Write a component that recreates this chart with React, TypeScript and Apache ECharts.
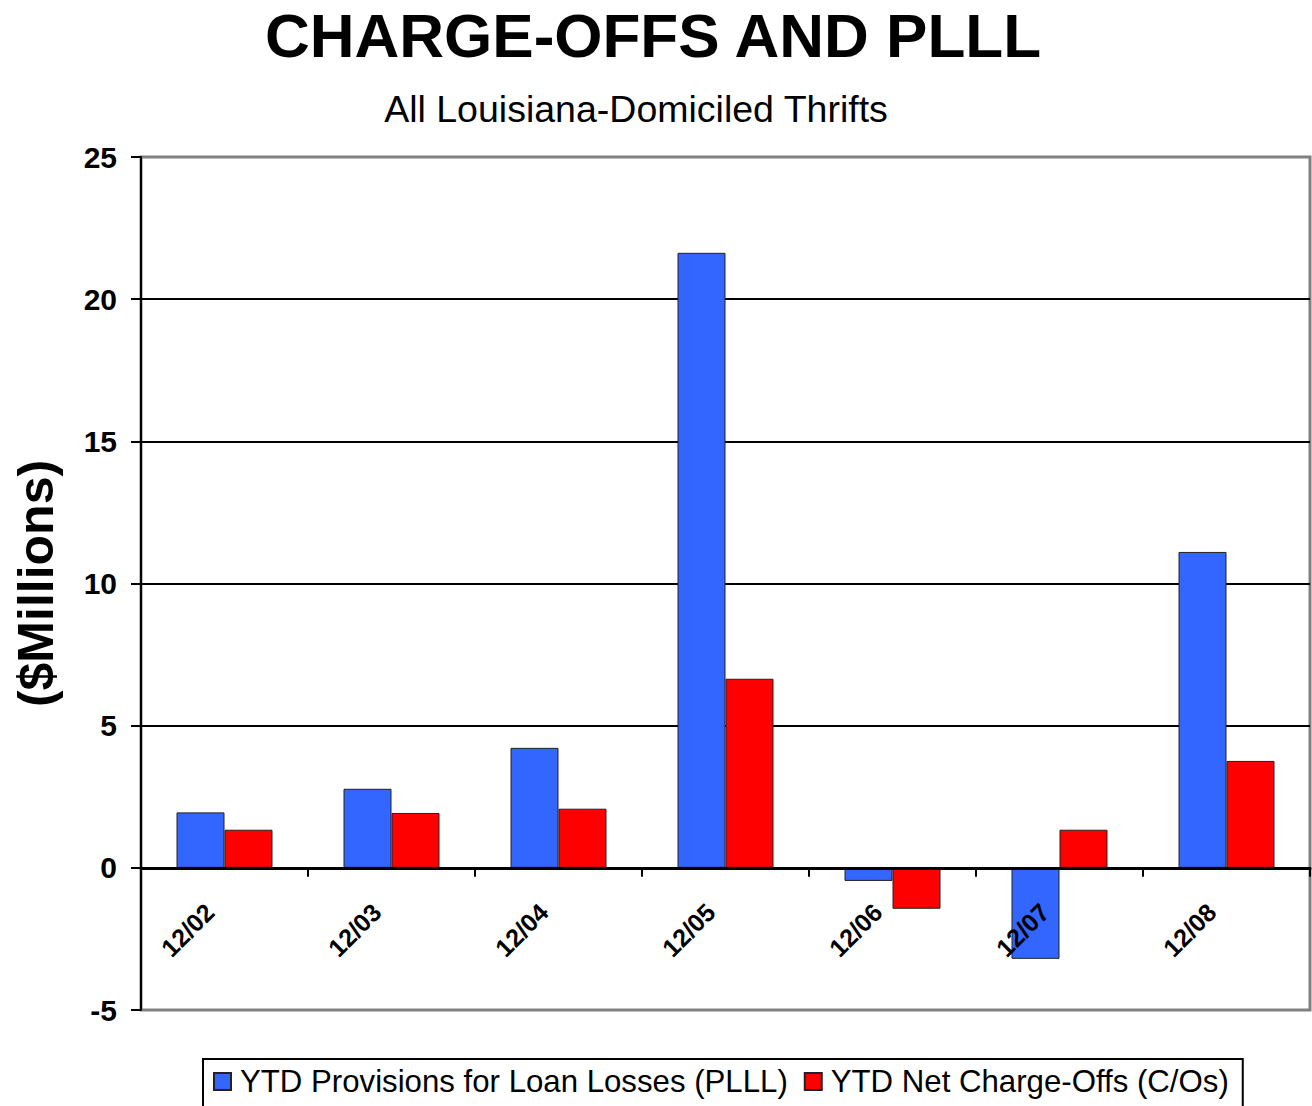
import React, { useEffect, useRef } from "react";
import * as echarts from "echarts";

const categories = ["12/02", "12/03", "12/04", "12/05", "12/06", "12/07", "12/08"];
const plllValues = [1.95, 2.78, 4.22, 21.63, -0.46, -3.2, 11.11];
const chargeOffValues = [1.34, 1.93, 2.08, 6.65, -1.44, 1.34, 3.76];
const seriesNames = ["YTD Provisions for Loan Losses (PLLL)", "YTD Net Charge-Offs (C/Os)"];
const yMin = -5;
const yMax = 25;
const yStep = 5;

const FONT = '"Liberation Sans", Arial, Helvetica, sans-serif';

export default function App() {
  const ref = useRef<HTMLDivElement>(null);

  useEffect(() => {
    document.body.style.margin = "0";
    if (!ref.current) return;
    const chart = echarts.init(ref.current, null, { renderer: "svg" });

    chart.setOption({
      animation: false,
      backgroundColor: "#ffffff",
      title: [
        {
          text: "CHARGE-OFFS AND PLLL",
          left: 648,
          top: -1,
          textAlign: "center",
          textStyle: { fontFamily: FONT, fontWeight: "bold", fontSize: 62, color: "#000" },
        },
        {
          text: "All Louisiana-Domiciled Thrifts",
          left: 631,
          top: 85,
          textAlign: "center",
          textStyle: { fontFamily: FONT, fontWeight: "normal", fontSize: 37.5, color: "#000" },
        },
      ],
      grid: {
        left: 141,
        right: 2,
        top: 157,
        bottom: 96,
        show: true,
        borderColor: "#808080",
        borderWidth: 3,
        backgroundColor: "transparent",
      },
      legend: {
        left: 203,
        top: 1059,
        orient: "horizontal",
        padding: [7, 14, 30, 10],
        itemGap: 16,
        itemWidth: 17,
        itemHeight: 17,
        icon: "rect",
        borderColor: "#000",
        borderWidth: 2,
        textStyle: { fontFamily: FONT, fontSize: 31.2, color: "#000", padding: [0, 0, 0, 4] },
        data: seriesNames,
      },
      xAxis: {
        type: "category",
        data: categories,
        boundaryGap: true,
        z: 5,
        axisLine: { onZero: true, lineStyle: { color: "#000", width: 3 } },
        axisTick: { show: true, interval: 0, length: 9, lineStyle: { color: "#000", width: 2 } },
        axisLabel: {
          interval: 0,
          rotate: 45,
          margin: -117,
          padding: [0, 21, 0, 0],
          fontFamily: FONT,
          fontWeight: "bold",
          fontSize: 25,
          color: "#000",
        },
        splitLine: { show: false },
      },
      yAxis: {
        type: "value",
        min: yMin,
        max: yMax,
        interval: yStep,
        name: "($Millions)",
        nameLocation: "middle",
        nameRotate: 90,
        nameGap: 80,
        nameTextStyle: { fontFamily: FONT, fontWeight: "bold", fontSize: 50, color: "#000" },
        axisLine: { show: true, onZero: false, lineStyle: { color: "#000", width: 2 } },
        axisTick: { show: true, length: 10, lineStyle: { color: "#000", width: 2 } },
        axisLabel: {
          margin: 24,
          fontFamily: FONT,
          fontWeight: "bold",
          fontSize: 30,
          color: "#000",
        },
        splitLine: {
          show: true,
          lineStyle: {
            color: ["#808080", "#000", "#000", "#000", "#000", "#000", "#808080"],
            width: 2,
          },
        },
      },
      series: [
        {
          name: seriesNames[0],
          type: "bar",
          data: plllValues,
          barWidth: 48,
          barGap: "0%",
          itemStyle: { color: "#3366FF", borderColor: "#222", borderWidth: 1 },
        },
        {
          name: seriesNames[1],
          type: "bar",
          data: chargeOffValues,
          barWidth: 48,
          barGap: "0%",
          itemStyle: { color: "#FF0000", borderColor: "#222", borderWidth: 1 },
        },
      ],
    });

    return () => chart.dispose();
  }, []);

  return (
    <div
      ref={ref}
      style={{ position: "absolute", left: 0, top: 0, width: 1312, height: 1106 }}
    />
  );
}
